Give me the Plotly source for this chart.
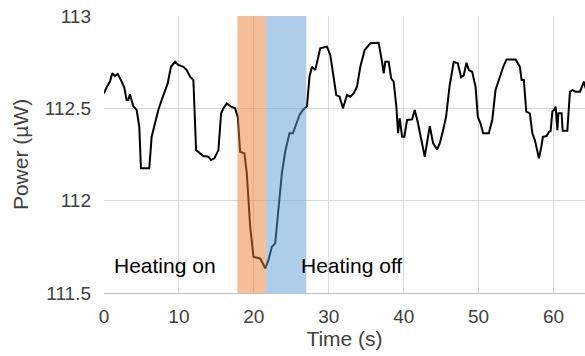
import plotly.graph_objects as go

time_s = [0.0, 0.35, 0.79, 1.10, 1.46, 1.82, 2.26, 2.70, 3.02, 3.24, 3.46, 3.69, 3.90, 4.36, 4.71, 4.93,
          6.04, 6.36, 6.80, 7.25, 7.70, 8.14, 8.50, 8.94, 9.48, 9.92, 10.59, 11.04, 11.48, 11.93, 12.29,
          12.82, 13.26, 13.93, 14.29, 14.73, 15.27, 15.63, 15.94, 16.39, 16.97, 17.50, 17.86, 18.17,
          18.74, 19.06, 19.51, 19.95, 20.84, 21.20, 21.51, 21.95, 22.41, 22.85, 23.29, 23.74, 24.18,
          24.76, 25.21, 25.66, 26.10, 26.55, 27.09, 27.43, 27.75, 28.20, 28.50, 28.86, 29.76, 30.20,
          30.64, 31.00, 31.44, 31.90, 32.43, 32.87, 33.32, 33.77, 34.21, 34.79, 35.55, 36.66, 37.11,
          37.33, 37.55, 38.00, 38.32, 38.66, 39.02, 39.25, 39.47, 39.79, 40.09, 40.45, 41.12, 41.47,
          41.87, 42.33, 42.81, 43.48, 43.93, 44.47, 44.81, 45.27, 45.67, 46.11, 46.68, 47.22, 47.67,
          48.02, 48.38, 48.69, 49.14, 49.59, 49.89, 50.25, 50.61, 51.36, 51.82, 52.26, 52.70, 53.29,
          53.73, 54.93, 55.51, 55.74, 56.04, 56.36, 56.84, 57.17, 57.51, 58.05, 58.37, 58.58, 59.08,
          59.39, 59.61, 59.84, 60.05, 60.28, 60.51, 60.64, 61.08, 61.22, 61.84, 62.19, 62.51, 62.95,
          63.53, 63.85, 64.06, 64.29]

power_uw = [112.581, 112.614, 112.644, 112.690, 112.675, 112.686, 112.653, 112.614, 112.545, 112.545,
            112.576, 112.545, 112.512, 112.491, 112.400, 112.175, 112.175, 112.346, 112.419, 112.491,
            112.545, 112.599, 112.635, 112.725, 112.752, 112.735, 112.725, 112.707, 112.671, 112.653,
            112.274, 112.256, 112.242, 112.238, 112.220, 112.229, 112.274, 112.473, 112.500, 112.527,
            112.509, 112.500, 112.454, 112.265, 112.256, 112.148, 111.859, 111.696, 111.687, 111.660,
            111.633, 111.678, 111.750, 111.769, 111.949, 112.148, 112.265, 112.365, 112.365, 112.419,
            112.464, 112.491, 112.512, 112.671, 112.725, 112.707, 112.762, 112.825, 112.834, 112.789,
            112.671, 112.572, 112.563, 112.500, 112.572, 112.563, 112.581, 112.617, 112.725, 112.816,
            112.852, 112.855, 112.752, 112.690, 112.752, 112.752, 112.663, 112.644, 112.509, 112.365,
            112.446, 112.346, 112.346, 112.437, 112.440, 112.491, 112.427, 112.328, 112.238, 112.404,
            112.310, 112.278, 112.310, 112.382, 112.458, 112.617, 112.752, 112.744, 112.668, 112.680,
            112.747, 112.707, 112.698, 112.617, 112.454, 112.419, 112.365, 112.365, 112.437, 112.599,
            112.653, 112.725, 112.765, 112.765, 112.725, 112.653, 112.653, 112.482, 112.473, 112.365,
            112.328, 112.229, 112.292, 112.346, 112.350, 112.373, 112.377, 112.482, 112.491, 112.509,
            112.382, 112.473, 112.473, 112.379, 112.379, 112.590, 112.599, 112.590, 112.590, 112.626,
            112.644, 112.608]

heating_on = [17.8, 21.6]
heating_off = [21.6, 27.0]
phase_labels = ["Heating on", "Heating off"]
label_x = [8.15, 33.1]
label_y = 111.65

x_range = [0, 64.2]
y_range = [111.5, 113]

FONT = "Liberation Sans, Arial"

fig = go.Figure()
fig.add_trace(go.Scatter(x=time_s, y=power_uw, mode="lines",
                         line=dict(color="black", width=2), showlegend=False,
                         hoverinfo="skip"))

fig.add_shape(type="rect", xref="x", yref="y", x0=heating_on[0], x1=heating_on[1],
              y0=y_range[0], y1=y_range[1], fillcolor="#ED7D31", opacity=0.5,
              line=dict(width=0), layer="above")
fig.add_shape(type="rect", xref="x", yref="y", x0=heating_off[0], x1=heating_off[1],
              y0=y_range[0], y1=y_range[1], fillcolor="#5B9BD5", opacity=0.5,
              line=dict(width=0), layer="above")

for txt, lx in zip(phase_labels, label_x):
    fig.add_annotation(x=lx, y=label_y, xref="x", yref="y", text=txt, showarrow=False,
                       xanchor="center", yanchor="middle",
                       font=dict(family=FONT, size=21, color="#000000"))

fig.update_layout(
    width=585, height=356,
    margin=dict(l=104, r=0, t=16, b=63),
    paper_bgcolor="white", plot_bgcolor="white",
    font=dict(family=FONT, size=19, color="#404040"),
    xaxis=dict(range=x_range, dtick=10, tick0=0, showgrid=True, gridcolor="#d9d9d9",
               gridwidth=1, zeroline=False, showline=True, linecolor="#bfbfbf", linewidth=1,
               ticks="", ticklabelstandoff=6,
               title=dict(text="Time (s)", font=dict(size=21, color="#404040"), standoff=4)),
    yaxis=dict(range=y_range, dtick=0.5, tick0=111.5, showgrid=True, gridcolor="#d9d9d9",
               gridwidth=1, zeroline=False, showline=False, ticks="", ticklabelstandoff=12,
               title=dict(text="Power (µW)", font=dict(size=21, color="#404040"), standoff=10)),
)

fig.write_html("out.html")
